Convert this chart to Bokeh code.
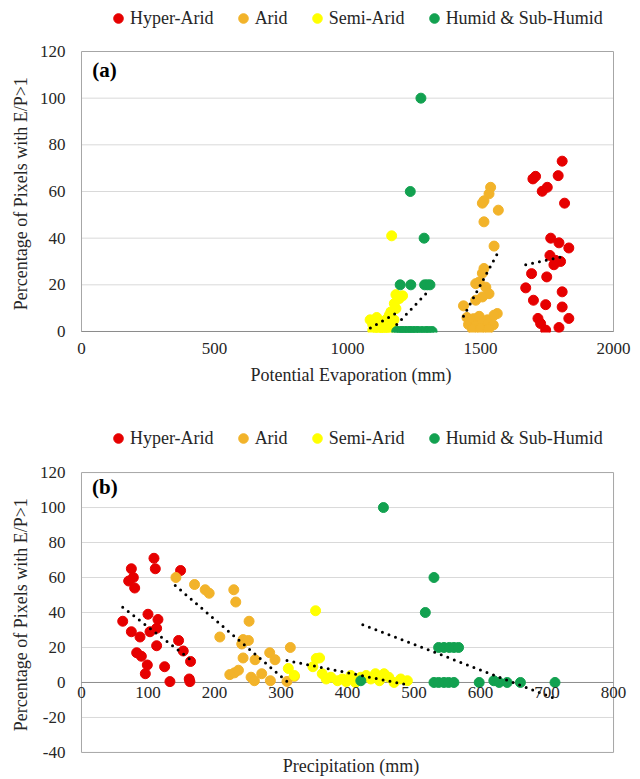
from bokeh.plotting import figure
from bokeh.models import Range1d, Legend, LegendItem, Label, Title, FixedTicker
from bokeh.layouts import column
from bokeh.embed import file_html
from bokeh.resources import INLINE

FONT = "Liberation Serif"
TEXT = "#262626"
GRID = "#d9d9d9"
FRAME = "#a6a6a6"
AXIS0 = "#8c8c8c"

categories = ["Hyper-Arid", "Arid", "Semi-Arid", "Humid & Sub-Humid"]
colors = ["#e60000", "#f2b32a", "#ffff00", "#12a150"]

# ---------------- Panel (a): Potential Evaporation ----------------
hyper_pe = [1807, 1707, 1697, 1792, 1751, 1732, 1816, 1764, 1795, 1832, 1761, 1782, 1801,
            1776, 1692, 1749, 1670, 1807, 1699, 1745, 1807, 1832, 1716, 1726, 1745, 1795]
hyper_pct_a = [73, 66.5, 65.4, 66.8, 61.8, 60.1, 55, 40, 38, 35.8, 32.6, 30.5, 30,
               28.6, 24.8, 23.4, 18.7, 17, 13.4, 11.5, 10.5, 5.6, 5.6, 3.4, 0.6, 1.7]
arid_pe = [1538, 1532, 1513, 1507, 1567, 1513, 1551, 1513, 1507, 1482, 1495, 1520, 1532, 1507,
           1482, 1436, 1563, 1449, 1474, 1495, 1526, 1551, 1455, 1480, 1505, 1530, 1548, 1470,
           1500, 1530]
arid_pct_a = [61.8, 59, 56, 55, 52, 47, 36.6, 27, 25, 20.5, 21.2, 19, 16.2, 14.8,
              13.4, 11, 7.7, 6, 5.5, 6.5, 5, 7, 3, 2.5, 3, 3.4, 2.8, 1,
              1.2, 1]
semi_pe = [1085, 1095, 1105, 1110, 1120, 1130, 1140, 1150, 1095, 1115, 1135, 1155, 1170, 1145,
           1160, 1175, 1157, 1163, 1182, 1176, 1194, 1207, 1182, 1166]
semi_pct_a = [5, 3, 2, 6, 1, 4, 0.5, 2, 0.5, 0, 1, 0.5, 3, 5,
              7, 5, 7, 8.4, 9.8, 12, 14.1, 15.3, 15.8, 41]
humid_pe = [1276, 1236, 1288, 1198, 1238, 1290, 1300, 1310,
            1185, 1195, 1205, 1215, 1225, 1235, 1245, 1255, 1265, 1280, 1295, 1305, 1318]
humid_pct_a = [100, 60, 40, 20, 20, 20, 20, 20,
               0, 0, 0, 0, 0, 0, 0, 0, 0, 0, 0, 0, 0]

trend_a_x = [[1670, 1818], [1436, 1563], [1086, 1188], [1185, 1310]]
trend_a_y = [[28.6, 32.3], [6.5, 33.3], [1.5, 8.2], [3, 18]]

# ---------------- Panel (b): Precipitation ----------------
hyper_p = [109, 111, 75, 78, 71, 80, 149, 62, 100, 115, 113, 103, 75,
           88, 113, 146, 153, 164, 83, 90, 99, 96, 125, 133, 162, 163]
hyper_pct_b = [71, 65, 65, 60, 58, 54, 64, 35, 39, 36, 31, 29, 29,
               26, 21, 24, 18, 12, 17, 15, 10, 5, 9, 0.5, 2, 0.5]
arid_p = [142, 170, 186, 192, 229, 232, 208, 252, 243, 251, 241, 243, 261,
          223, 230, 236, 255, 260, 271, 283, 291, 284, 314, 320, 309]
arid_pct_b = [60, 56, 53, 51, 53, 46, 26, 35, 24.5, 24, 22, 14, 13,
              4.5, 5.5, 7, 3, 1, 5, 17, 13, 1, 20, 3.5, 0.6]
semi_p = [311, 320, 348, 353, 358, 352, 362, 368, 375, 385, 392, 398, 405, 412,
          420, 428, 435, 442, 448, 455, 462, 470, 480, 490]
semi_pct_b = [8, 4, 9, 13.7, 14, 41, 5, 2, 3, 1, 2, 0.5, 4, 0,
              3, 4, 2, 5, 1, 5, 3, 0, 2, 1]
humid_p = [454, 530, 517, 537, 545, 553, 560, 567,
           420, 530, 537, 545, 552, 560, 598, 620, 628, 640, 660, 712]
humid_pct_b = [100, 60, 40, 20, 20, 20, 20, 20,
               1, 0, 0, 0, 0, 0, 0, 1, 0, 0, 0, 0]

trend_b_x = [[62, 164], [141, 310], [309, 490], [423, 712]]
trend_b_y = [[43, 13], [55.4, 0.2], [12.5, -1.3], [33, -9.2]]

xticks_a = [0, 500, 1000, 1500, 2000]
yticks_a = [0, 20, 40, 60, 80, 100, 120]
xticks_b = [0, 100, 200, 300, 400, 500, 600, 700, 800]
yticks_b = [-40, -20, 0, 20, 40, 60, 80, 100, 120]

YLABEL = "Percentage of Pixels  with E/P>1"

# every figure shares these side borders (a column aligns the frames);
# each frame is a little wider than its drawn box so edge tick labels are not cut
BORDER_L, BORDER_R = 74, 13


def style_axes(p, xticks, yticks):
    p.xaxis[0].ticker = FixedTicker(ticks=xticks)
    p.yaxis[0].ticker = FixedTicker(ticks=yticks)
    p.yaxis[0].major_label_overrides = {t: str(t) for t in yticks}
    for ax in (p.xaxis[0], p.yaxis[0]):
        ax.axis_line_color = None
        ax.major_tick_line_color = None
        ax.minor_tick_line_color = None
        ax.major_tick_out = 0
        ax.major_tick_in = 0
        ax.major_label_text_font = FONT
        ax.major_label_text_font_size = "17px"
        ax.major_label_text_color = TEXT
        ax.axis_label_text_font = FONT
        ax.axis_label_text_font_size = "18px"
        ax.axis_label_text_font_style = "normal"
        ax.axis_label_text_color = TEXT
    ya = p.yaxis[0]
    ya.axis_label = YLABEL
    ya.major_label_standoff = 9
    ya.axis_label_standoff = 6


def draw_box(p, xticks, yticks):
    inner = [t for t in yticks if t not in (yticks[0], 0, yticks[-1])]
    p.segment(x0=[xticks[0]] * len(inner), x1=[xticks[-1]] * len(inner),
              y0=inner, y1=inner, line_color=GRID, line_width=1)
    p.quad(left=[xticks[0]], right=[xticks[-1]], bottom=[yticks[0]], top=[yticks[-1]],
           fill_color=None, line_color=FRAME, line_width=1)
    p.segment(x0=[xticks[0]], x1=[xticks[-1]], y0=[0], y1=[0], line_color=AXIS0, line_width=1)


def add_points(p, xs, ys, trx, tr_y):
    for i in range(4):
        p.scatter(xs[i], ys[i], size=10, fill_color=colors[i], line_color=colors[i])
    for i in range(4):
        p.line(trx[i], tr_y[i], line_color="black", line_width=3,
               line_dash="0 7", line_cap="round")


def legend_fig(height, vy, xs, ys):
    # legend strip: the series are drawn off-range, only their legend entries show
    lf = figure(width=640, height=height, x_range=Range1d(-2, -1), y_range=Range1d(-2, -1),
                output_backend="svg", toolbar_location=None,
                min_border_left=BORDER_L, min_border_right=BORDER_R,
                min_border_top=0, min_border_bottom=0,
                background_fill_color="white", border_fill_color="white",
                outline_line_color=None)
    lf.axis.visible = False
    lf.grid.visible = False
    rs = [lf.scatter(x, y, size=10, fill_color=c, line_color=c)
          for x, y, c in zip(xs, ys, colors)]
    leg = Legend(items=[LegendItem(label=c, renderers=[r]) for c, r in zip(categories, rs)],
                 orientation="horizontal", location=(32, vy),
                 glyph_width=24, glyph_height=24, label_standoff=0, spacing=17,
                 padding=0, margin=0, border_line_color=None, background_fill_alpha=0,
                 label_text_font=FONT, label_text_font_size="18px", label_text_color=TEXT)
    lf.add_layout(leg)
    return lf


def add_tag(p, x, tag):
    p.add_layout(Label(x=x, y=112, text=tag, text_font=FONT, text_font_size="21px",
                       text_font_style="bold", text_baseline="middle", text_color="black"))


# ---------------- figure (a) ----------------
xs_a = [hyper_pe, arid_pe, semi_pe, humid_pe]
ys_a = [hyper_pct_a, arid_pct_a, semi_pct_a, humid_pct_a]
la = legend_fig(36, 6, xs_a, ys_a)
pa = figure(width=640, height=359, x_range=Range1d(-26.3, 2052.6), y_range=Range1d(-0.43, 120.43),
            output_backend="svg", toolbar_location=None,
            min_border_left=BORDER_L, min_border_right=BORDER_R,
            min_border_top=14, min_border_bottom=63,
            background_fill_color="white", border_fill_color="white",
            outline_line_color=None)
pa.grid.visible = False
draw_box(pa, xticks_a, yticks_a)
add_points(pa, xs_a, ys_a, trend_a_x, trend_a_y)
style_axes(pa, xticks_a, yticks_a)
pa.xaxis[0].axis_label = "Potential Evaporation (mm)"
pa.xaxis[0].major_label_standoff = 10
pa.xaxis[0].axis_label_standoff = 8
add_tag(pa, 40, "(a)")

# ---------------- figure (b) ----------------
xs_b = [hyper_p, arid_p, semi_p, humid_p]
ys_b = [hyper_pct_b, arid_pct_b, semi_pct_b, humid_pct_b]
lb = legend_fig(60, 5, xs_b, ys_b)
pb = figure(width=640, height=324, x_range=Range1d(-10.5, 821), y_range=Range1d(-40.6, 120.6),
            output_backend="svg", toolbar_location=None,
            min_border_left=BORDER_L, min_border_right=BORDER_R,
            min_border_top=16, min_border_bottom=26,
            background_fill_color="white", border_fill_color="white",
            outline_line_color=None)
pb.grid.visible = False
draw_box(pb, xticks_b, yticks_b)
add_points(pb, xs_b, ys_b, trend_b_x, trend_b_y)
style_axes(pb, xticks_b, yticks_b)
xb = pb.xaxis[0]
xb.fixed_location = 0
xb.major_label_standoff = 5
xb.axis_label = None
pb.add_layout(Title(text="Precipitation (mm)", align="center", text_font=FONT,
                    text_font_size="18px", text_font_style="normal",
                    text_color=TEXT, standoff=0), "below")
add_tag(pb, 16, "(b)")

layout = column(la, pa, lb, pb, spacing=0)
open("out.html", "w").write(file_html(layout, INLINE))
